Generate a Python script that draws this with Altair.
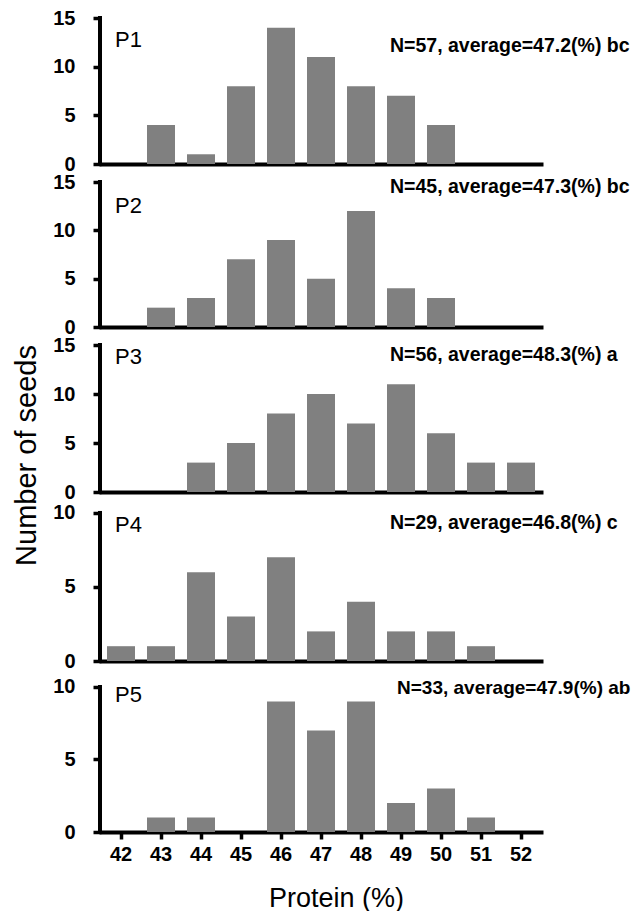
import altair as alt
import pandas as pd

protein = [42, 43, 44, 45, 46, 47, 48, 49, 50, 51, 52]
panels = ["P1", "P2", "P3", "P4", "P5"]
p1 = [0, 4, 1, 8, 14, 11, 8, 7, 4, 0, 0]
p2 = [0, 2, 3, 7, 9, 5, 12, 4, 3, 0, 0]
p3 = [0, 0, 3, 5, 8, 10, 7, 11, 6, 3, 3]
p4 = [1, 1, 6, 3, 7, 2, 4, 2, 2, 1, 0]
p5 = [0, 1, 1, 0, 9, 7, 9, 2, 3, 1, 0]
counts = [p1, p2, p3, p4, p5]
notes = [
    "N=57, average=47.2(%) bc",
    "N=45, average=47.3(%) bc",
    "N=56, average=48.3(%) a",
    "N=29, average=46.8(%) c",
    "N=33, average=47.9(%) ab",
]
y_tick_max = [15, 15, 15, 10, 10]
y_ticks = [[0, 5, 10, 15], [0, 5, 10, 15], [0, 5, 10, 15], [0, 5, 10], [0, 5, 10]]

# layout (pixels)
y_domain_max = [15, 15, 15, 10.2, 10.55]
heights = [146, 145, 147, 151, 153]
label_y = [22, 24, 12, 15, 16]
note_y = [28, 5, 10, 13, 9]
note_x = [289, 289, 289, 289, 296]
note_size = [19.5, 19.5, 19.5, 19.5, 19]
W = 440
FONT = "Liberation Sans"

charts = []
for i, name in enumerate(panels):
    df = pd.DataFrame({"protein": protein, "count": counts[i]})
    df = df[df["count"] > 0]
    last = i == len(panels) - 1
    if last:
        xaxis = alt.Axis(
            title="Protein (%)", labelAngle=0, ticks=True, tickSize=7, tickWidth=3.5,
            labelPadding=5, domainWidth=4, domainCap="square",
            titleFontSize=27, titleFontWeight="normal", titleFont=FONT,
            titleY=66, titleBaseline="middle", titleX=235, titleAlign="center",
        )
    else:
        xaxis = alt.Axis(title=None, labels=False, ticks=False, domainWidth=4, domainCap="square")
    if i == 2:
        yaxis = alt.Axis(
            values=y_ticks[i], domain=False, tickSize=8, tickWidth=3.5, labelPadding=18,
            title="Number of seeds", titleFontSize=29, titleFontWeight="normal", titleFont=FONT,
            titleX=-66, titleY=110, titleBaseline="alphabetic", titleAlign="center", titleAngle=270,
        )
    else:
        yaxis = alt.Axis(values=y_ticks[i], domain=False, tickSize=8, tickWidth=3.5, labelPadding=18, title=None)

    x = alt.X("protein:O", scale=alt.Scale(domain=protein, paddingInner=0.3, paddingOuter=0.15), axis=xaxis)
    y = alt.Y("count:Q", scale=alt.Scale(domain=[0, y_domain_max[i]], nice=False), axis=yaxis)

    bars = alt.Chart(df).mark_bar(color="#808080").encode(x=x, y=y)
    rule = alt.Chart(pd.DataFrame({"bottom": [0], "top": [y_tick_max[i]]})).mark_rule(
        color="black", strokeWidth=4, strokeCap="square"
    ).encode(x=alt.value(-1), y=alt.Y("bottom:Q"), y2=alt.Y2("top"))
    lab = alt.Chart(pd.DataFrame({"t": [name]})).mark_text(
        align="left", baseline="middle", font=FONT, fontSize=22, color="black"
    ).encode(x=alt.value(14), y=alt.value(label_y[i]), text="t:N")
    note = alt.Chart(pd.DataFrame({"t": [notes[i]]})).mark_text(
        align="left", baseline="middle", font=FONT, fontSize=note_size[i], fontWeight="bold", color="black"
    ).encode(x=alt.value(note_x[i]), y=alt.value(note_y[i]), text="t:N")
    charts.append(
        alt.layer(bars, rule, lab, note).properties(width=W, height=heights[i])
    )

chart = (
    alt.vconcat(*charts, spacing=18, bounds="flush")
    .resolve_scale(y="independent")
    .properties(padding={"left": 3, "top": 0, "right": 0, "bottom": 0})
    .configure_view(strokeWidth=0)
    .configure_axis(
        grid=False,
        labelFont=FONT, labelFontSize=20, labelFontWeight="bold", labelColor="black",
        domainColor="black", tickColor="black", titleColor="black",
    )
)

chart.save("out.html", embed_options={"renderer": "svg", "actions": False})
